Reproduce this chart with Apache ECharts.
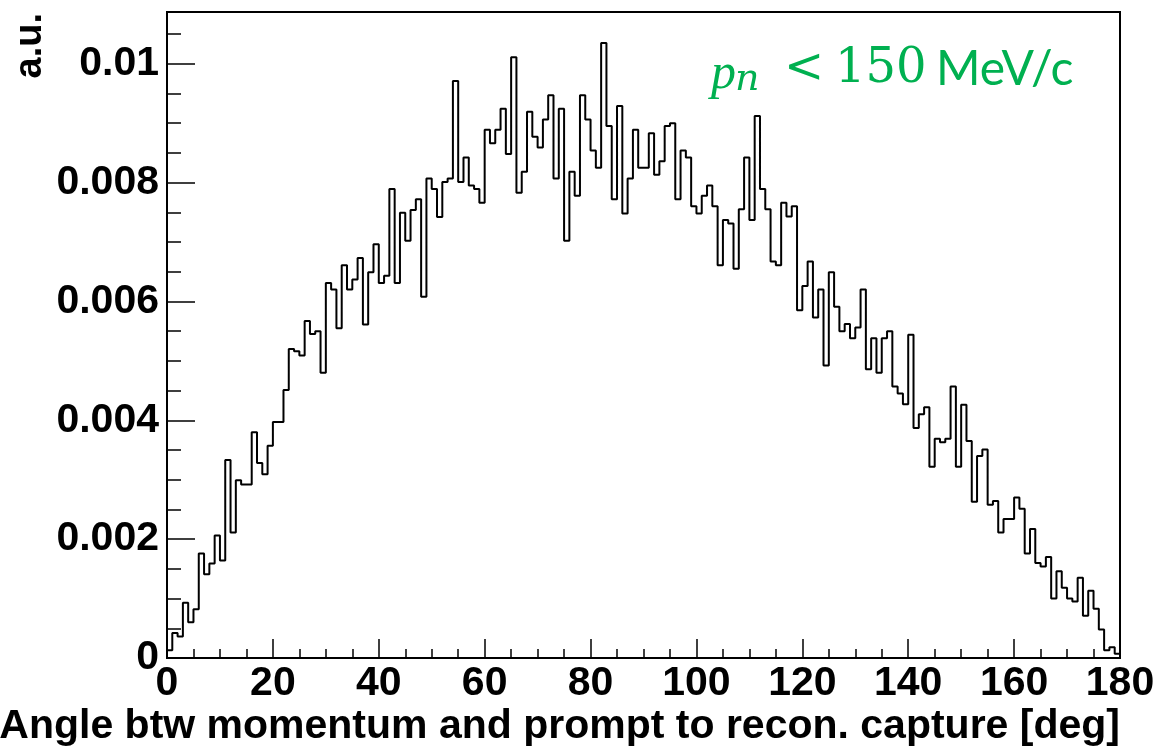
<!DOCTYPE html>
<html><head><meta charset="utf-8">
<script src="https://cdn.jsdelivr.net/npm/echarts@6/dist/echarts.min.js"></script>
<style>html,body{margin:0;padding:0;background:#fff}#c{width:1160px;height:749px}</style>
</head><body><div id="c"></div>
<script>
// Histogram: 180 bins of 1 degree from 0 to 180
const xRange = [0, 180];
const binValues = [
 0.00013,0.00042,0.00036,0.00093,0.00060,0.00082,0.00176,0.00141,0.00159,0.00206,
 0.00164,0.00333,0.00211,0.00299,0.00292,0.00292,0.00380,0.00328,0.00309,0.00357,
 0.00397,0.00397,0.00451,0.00520,0.00516,0.00509,0.00567,0.00545,0.00550,0.00480,
 0.00631,0.00620,0.00555,0.00661,0.00620,0.00637,0.00673,0.00561,0.00649,0.00696,
 0.00631,0.00643,0.00789,0.00631,0.00749,0.00702,0.00754,0.00772,0.00608,0.00807,
 0.00789,0.00742,0.00801,0.00807,0.00971,0.00801,0.00842,0.00795,0.00789,0.00766,
 0.00889,0.00866,0.00889,0.00924,0.00848,0.01011,0.00783,0.00818,0.00919,0.00877,
 0.00859,0.00906,0.00947,0.00807,0.00924,0.00702,0.00818,0.00778,0.00947,0.00906,
 0.00854,0.00825,0.01035,0.00895,0.00772,0.00929,0.00748,0.00807,0.00889,0.00825,
 0.00825,0.00883,0.00813,0.00836,0.00895,0.00900,0.00772,0.00854,0.00842,0.00760,
 0.00748,0.00778,0.00795,0.00760,0.00661,0.00737,0.00731,0.00655,0.00755,0.00842,
 0.00737,0.00912,0.00789,0.00755,0.00667,0.00661,0.00766,0.00743,0.00760,0.00585,
 0.00626,0.00667,0.00573,0.00620,0.00492,0.00649,0.00591,0.00550,0.00562,0.00538,
 0.00556,0.00620,0.00486,0.00538,0.00480,0.00538,0.00550,0.00457,0.00445,0.00427,
 0.00544,0.00387,0.00410,0.00422,0.00322,0.00369,0.00363,0.00369,0.00457,0.00322,
 0.00426,0.00365,0.00263,0.00340,0.00351,0.00258,0.00264,0.00211,0.00234,0.00234,
 0.00270,0.00251,0.00176,0.00217,0.00160,0.00154,0.00170,0.00100,0.00146,0.00118,
 0.00100,0.00095,0.00135,0.00071,0.00113,0.00083,0.00048,0.00013,0.00018,0.00007
];
const xTickValues = [0, 20, 40, 60, 80, 100, 120, 140, 160, 180];
const xTickLabels = ['0', '20', '40', '60', '80', '100', '120', '140', '160', '180'];
const yTickValues = [0, 0.002, 0.004, 0.006, 0.008, 0.01];
const yTickLabels = ['0', '0.002', '0.004', '0.006', '0.008', '0.01'];
const yMax = 0.01087;
const xTitle = 'Angle btw momentum and prompt to recon. capture [deg]';
const yTitle = 'a.u.';

const binWidth = (xRange[1] - xRange[0]) / binValues.length;
const stepData = [[xRange[0], 0]];
binValues.forEach((v, i) => stepData.push([xRange[0] + i * binWidth, v]));
stepData.push([xRange[1], binValues[binValues.length - 1]]);
stepData.push([xRange[1], 0]);

function lookup(vals, labels, v) {
  for (let i = 0; i < vals.length; i++) if (Math.abs(vals[i] - v) < 1e-9) return labels[i];
  return '';
}

const FONT = 'Liberation Sans';
const GREEN = '#00B050';
const chart = echarts.init(document.getElementById('c'), null, {renderer: 'canvas'});
chart.setOption({
  animation: false,
  backgroundColor: '#fff',
  grid: {left: 167, right: 40, top: 12, bottom: 91, show: true, borderColor: '#000', borderWidth: 2, backgroundColor: 'transparent'},
  xAxis: [{
    type: 'value', min: xRange[0], max: xRange[1], interval: 20, position: 'bottom',
    axisLine: {show: true, lineStyle: {color: '#000', width: 2}},
    axisTick: {show: true, inside: true, length: 19, lineStyle: {color: '#000', width: 1.5}},
    axisLabel: {color: '#000', fontSize: 41, fontWeight: 'bold', fontFamily: FONT, margin: 5,
      formatter: v => lookup(xTickValues, xTickLabels, v)},
    splitLine: {show: false}
  }, {
    type: 'value', min: xRange[0], max: xRange[1], interval: 5, position: 'bottom',
    axisLine: {show: false},
    axisTick: {show: true, inside: true, length: 9, lineStyle: {color: '#000', width: 1.5}},
    axisLabel: {show: false}, splitLine: {show: false}
  }],
  yAxis: [{
    type: 'value', min: 0, max: yMax, interval: 0.002, position: 'left',
    axisLine: {show: true, lineStyle: {color: '#000', width: 2}},
    axisTick: {show: true, inside: true, length: 28, lineStyle: {color: '#000', width: 1.5}},
    axisLabel: {color: '#000', fontSize: 41, fontWeight: 'bold', fontFamily: FONT, margin: 8,
      showMaxLabel: false, formatter: v => lookup(yTickValues, yTickLabels, v)},
    splitLine: {show: false}
  }, {
    type: 'value', min: 0, max: yMax, interval: 0.0005, position: 'left',
    axisLine: {show: false},
    axisTick: {show: true, inside: true, length: 14, lineStyle: {color: '#000', width: 1.5}},
    axisLabel: {show: false}, splitLine: {show: false}
  }],
  series: [{
    type: 'line', xAxisIndex: 0, yAxisIndex: 0, step: 'end', symbol: 'none',
    lineStyle: {color: '#000', width: 2}, data: stepData, silent: true
  }],
  graphic: [
    {type: 'text', x: 1120, y: 727, style: {text: xTitle, fill: '#000', font: 'bold 41px ' + FONT, textAlign: 'right', textVerticalAlign: 'middle'}},
    {type: 'text', x: 31, y: 13, rotation: Math.PI / 2, style: {text: yTitle, fill: '#000', font: 'bold 38px ' + FONT, textAlign: 'right', textVerticalAlign: 'middle'}},
    {type: 'text', x: 711, y: 75, style: {text: 'p', fill: GREEN, font: 'italic 50px "Liberation Serif"', textAlign: 'left', textVerticalAlign: 'middle'}},
    {type: 'text', x: 735, y: 80, style: {text: 'n', fill: GREEN, font: 'italic 38px "DejaVu Serif"', textAlign: 'left', textVerticalAlign: 'middle'}},
    {type: 'text', x: 784, y: 70, style: {text: '<', fill: GREEN, font: '48px "DejaVu Serif"', textAlign: 'left', textVerticalAlign: 'middle'}},
    {type: 'text', x: 835, y: 70, style: {text: '150', fill: GREEN, font: '48px "DejaVu Serif"', textAlign: 'left', textVerticalAlign: 'middle'}},
    {type: 'text', x: 936, y: 70, style: {text: 'MeV/c', fill: GREEN, font: '48px Lato', textAlign: 'left', textVerticalAlign: 'middle'}}
  ]
});
</script></body></html>
